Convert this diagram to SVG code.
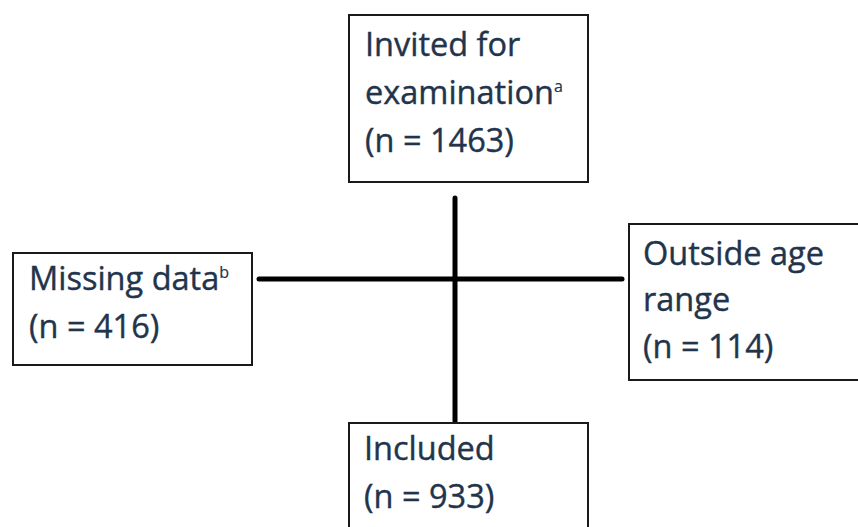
<svg xmlns="http://www.w3.org/2000/svg" width="858" height="527" viewBox="0 0 858 527">
<style>
.box{fill:#fff;stroke:#1a1a1a;stroke-width:2}
.t{font-family:"Open Sans","Liberation Sans",sans-serif;font-size:32.5px;fill:#22344c;stroke:#22344c;stroke-width:0.4}
.sup{font-size:16px;stroke-width:0.2}
.ln{stroke:#000;stroke-width:5;stroke-linecap:round;fill:none}
</style>
<rect width="858" height="527" fill="#fff"/>
<g id="connectors">
<line class="ln" x1="455" y1="198" x2="455" y2="421"/>
<line class="ln" x1="259" y1="279" x2="622" y2="279"/>
</g>
<g id="invited">
<rect class="box" x="349" y="15" width="239" height="167"/>
<text class="t" x="365" y="56">Invited for</text>
<text class="t" x="365" y="104">examination<tspan class="sup" dy="-12">a</tspan></text>
<text class="t" x="365" y="152">(n = 1463)</text>
</g>
<g id="missing">
<rect class="box" x="13" y="253" width="239" height="112"/>
<text class="t" x="29" y="290">Missing data<tspan class="sup" dy="-12">b</tspan></text>
<text class="t" x="29" y="338">(n = 416)</text>
</g>
<g id="outside">
<rect class="box" x="629" y="224" width="240" height="156"/>
<text class="t" x="643" y="265">Outside age</text>
<text class="t" x="643" y="311">range</text>
<text class="t" x="643" y="358">(n = 114)</text>
</g>
<g id="included">
<rect class="box" x="349" y="423" width="239" height="120"/>
<text class="t" x="364" y="460">Included</text>
<text class="t" x="364" y="508">(n = 933)</text>
</g>
</svg>
